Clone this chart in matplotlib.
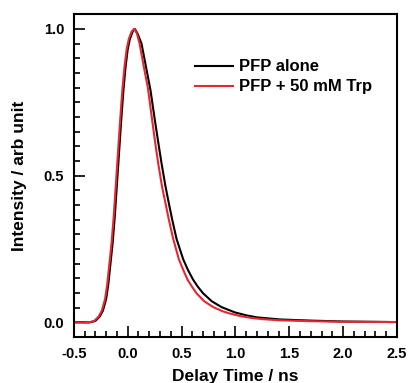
import matplotlib
matplotlib.use('Agg')
import matplotlib.pyplot as plt
from matplotlib.ticker import MultipleLocator

# PFP alone
t_alone = [-0.5, -0.35, -0.30, -0.26, -0.23, -0.20, -0.18, -0.16, -0.14, -0.12, -0.10, -0.08, -0.06,
           -0.04, -0.02, 0.0, 0.02, 0.045, 0.065, 0.09, 0.128, 0.17, 0.212, 0.252, 0.285, 0.314,
           0.35, 0.385, 0.413, 0.453, 0.515, 0.56, 0.608, 0.65, 0.70, 0.78, 0.871, 0.995, 1.1,
           1.2, 1.41, 1.7, 2.0, 2.5]
i_alone = [0, 0, 0.005, 0.02, 0.04, 0.08, 0.13, 0.20, 0.27, 0.36, 0.47, 0.58, 0.69,
           0.79, 0.87, 0.93, 0.965, 0.99, 1.0, 0.985, 0.95, 0.87, 0.79, 0.689, 0.61, 0.542,
           0.465, 0.40, 0.35, 0.285, 0.215, 0.178, 0.145, 0.122, 0.099, 0.072, 0.052, 0.034, 0.024,
           0.017, 0.010, 0.006, 0.003, 0.001]

# PFP + 50 mM Trp
t_trp = [-0.5, -0.36, -0.31, -0.27, -0.24, -0.21, -0.19, -0.17, -0.15, -0.13, -0.11, -0.09, -0.07,
         -0.05, -0.03, -0.01, 0.01, 0.035, 0.06, 0.085, 0.11, 0.15, 0.187, 0.227, 0.256, 0.283,
         0.32, 0.354, 0.382, 0.422, 0.475, 0.52, 0.556, 0.60, 0.639, 0.71, 0.794, 0.88, 0.94,
         1.05, 1.15, 1.25, 1.41, 1.7, 2.0, 2.5]
i_trp = [0, 0, 0.005, 0.02, 0.04, 0.08, 0.13, 0.20, 0.27, 0.36, 0.47, 0.58, 0.69,
         0.79, 0.87, 0.93, 0.965, 0.99, 1.0, 0.985, 0.95, 0.87, 0.80, 0.689, 0.61, 0.542,
         0.46, 0.40, 0.35, 0.285, 0.215, 0.175, 0.145, 0.12, 0.099, 0.072, 0.052, 0.038, 0.031,
         0.021, 0.015, 0.011, 0.007, 0.004, 0.002, 0.001]

plt.rcParams['font.family'] = ['Liberation Sans', 'DejaVu Sans']
plt.rcParams['font.weight'] = 'bold'

fig = plt.figure(figsize=(4.08, 3.83), dpi=100)
ax = fig.add_axes([0.181, 0.120, 0.792, 0.843])

ax.plot(t_alone, i_alone, color='black', lw=1.5, label='PFP alone')
ax.plot(t_trp, i_trp, color='#e8262e', lw=1.5, label='PFP + 50 mM Trp')

ax.set_xlim(-0.5, 2.5)
ax.set_ylim(-0.05, 1.05)
ax.xaxis.set_major_locator(MultipleLocator(0.5))
ax.xaxis.set_minor_locator(MultipleLocator(0.1))
ax.yaxis.set_major_locator(MultipleLocator(0.5))
ax.yaxis.set_minor_locator(MultipleLocator(0.05))
ax.xaxis.set_major_formatter(lambda v, p: f'{v:.1f}')
ax.yaxis.set_major_formatter(lambda v, p: f'{v:.1f}')
ax.tick_params(which='both', direction='in', width=1.2, labelsize=10.5, pad=7)
ax.tick_params(which='major', length=8)
ax.tick_params(which='minor', length=4.5)
for s in ax.spines.values():
    s.set_linewidth(1.5)

ax.set_xlabel('Delay Time / ns', fontsize=12.5, fontweight='bold', labelpad=6)
ax.set_ylabel('Intensity / arb unit', fontsize=12.5, fontweight='bold', labelpad=12)

ax.legend(loc='upper left', bbox_to_anchor=(0.375, 0.86), frameon=False, fontsize=12,
          borderpad=0, borderaxespad=0, handlelength=2.3, handletextpad=0.35, labelspacing=0.3)

fig.savefig('out.png', dpi=100)
